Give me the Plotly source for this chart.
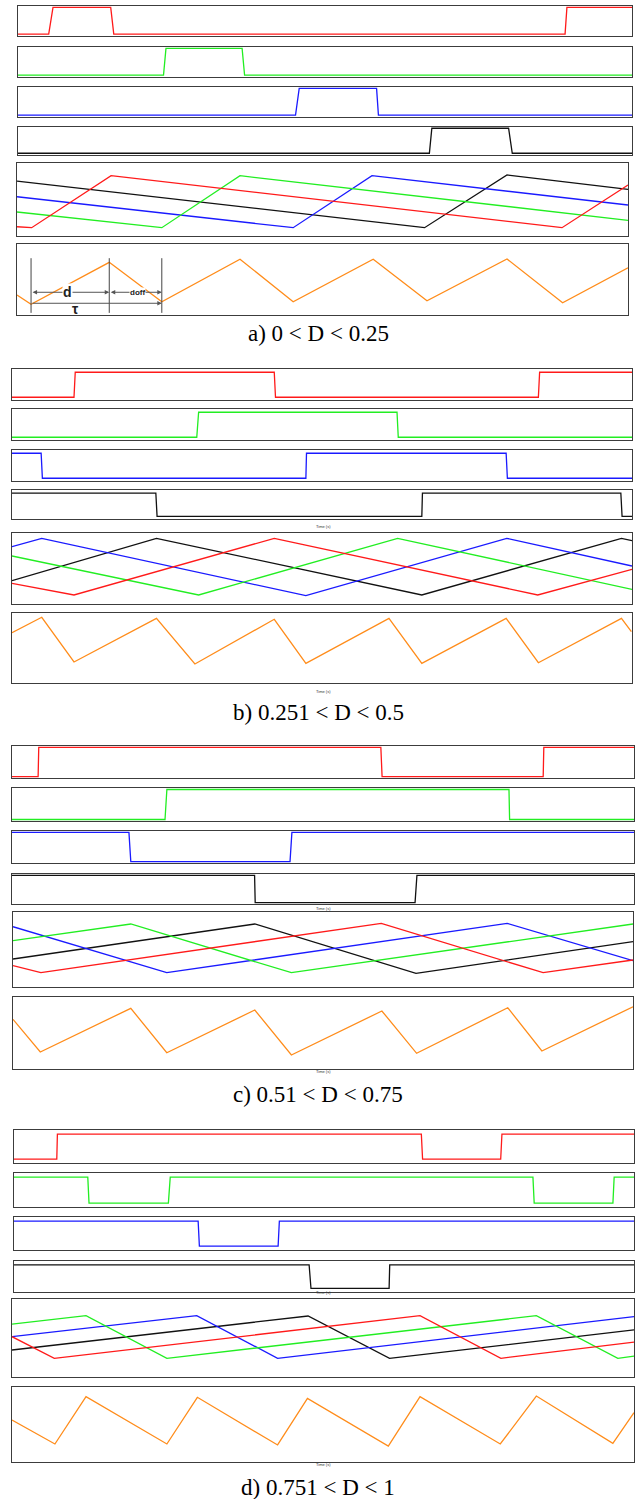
import plotly.graph_objects as go

# ---------------------------------------------------------------------------
# Waveform data: time axis 0..100 (one window), pulse levels 0/1,
# carrier / summed waveforms normalised to the panel height (0..1).
# ---------------------------------------------------------------------------

# a) 0 < D < 0.25  -- gate pulses
a_red_t = [0, 5.0, 5.7, 15.1, 15.6, 89.1, 89.4, 100]
a_red_v = [0, 0, 1, 1, 0, 0, 1, 1]
a_green_t = [0, 23.7, 24.1, 36.5, 36.9, 100]
a_green_v = [0, 0, 1, 1, 0, 0]
a_blue_t = [0, 45.2, 45.8, 58.4, 58.7, 100]
a_blue_v = [0, 0, 1, 1, 0, 0]
a_black_t = [0, 67.0, 67.4, 79.9, 80.5, 100]
a_black_v = [0, 0, 1, 1, 0, 0]
# a) phase currents and total
a_ramp_red_t = [0, 2.4, 15.4, 89.2, 100]
a_ramp_red_v = [0.127, 0.114, 0.826, 0.114, 0.699]
a_ramp_green_t = [0, 23.7, 36.5, 100]
a_ramp_green_v = [0.329, 0.114, 0.826, 0.215]
a_ramp_blue_t = [0, 45.2, 58.1, 100]
a_ramp_blue_v = [0.538, 0.114, 0.826, 0.425]
a_ramp_black_t = [0, 66.7, 80.2, 100]
a_ramp_black_v = [0.753, 0.114, 0.836, 0.640]
a_sum_t = [0, 2.3, 15.1, 23.7, 36.5, 45.2, 58.3, 67.1, 80.2, 89.3, 100]
a_sum_v = [0.282, 0.151, 0.742, 0.187, 0.785, 0.187, 0.785, 0.201, 0.789, 0.173, 0.666]

# b) 0.251 < D < 0.5
b_red_t = [0, 10.0, 10.2, 42.3, 42.5, 84.9, 85.1, 100]
b_red_v = [0, 0, 1, 1, 0, 0, 1, 1]
b_green_t = [0, 29.8, 30.1, 62.1, 62.3, 100]
b_green_v = [0, 0, 1, 1, 0, 0]
b_blue_t = [0, 4.7, 4.9, 47.4, 47.5, 79.7, 79.9, 100]
b_blue_v = [1, 1, 0, 0, 1, 1, 0, 0]
b_black_t = [0, 23.2, 23.4, 66.1, 66.2, 98.2, 98.4, 100]
b_black_v = [1, 1, 0, 0, 1, 1, 0, 0]
b_ramp_red_t = [0, 10.0, 42.3, 84.8, 100]
b_ramp_red_v = [0.291, 0.127, 0.925, 0.127, 0.488]
b_ramp_green_t = [0, 30.1, 62.2, 100]
b_ramp_green_v = [0.676, 0.127, 0.925, 0.207]
b_ramp_blue_t = [0, 4.8, 47.4, 79.8, 100]
b_ramp_blue_v = [0.807, 0.925, 0.117, 0.925, 0.535]
b_ramp_black_t = [0, 23.3, 66.1, 98.3, 100]
b_ramp_black_v = [0.328, 0.925, 0.127, 0.925, 0.892]
b_sum_t = [0, 4.8, 10.0, 23.3, 29.5, 42.3, 47.4, 60.8, 66.1, 79.7, 84.9, 98.3, 99.9]
b_sum_v = [0.719, 0.939, 0.300, 0.924, 0.271, 0.910, 0.281, 0.924, 0.281, 0.924, 0.290, 0.924, 0.733]

# c) 0.51 < D < 0.75
c_red_t = [0, 4.2, 4.3, 59.3, 59.5, 85.4, 85.5, 100]
c_red_v = [0, 0, 1, 1, 0, 0, 1, 1]
c_green_t = [0, 24.6, 24.9, 79.9, 80.0, 100]
c_green_v = [0, 0, 1, 1, 0, 0]
c_blue_t = [0, 18.8, 19.1, 44.7, 45.0, 100]
c_blue_v = [1, 1, 0, 0, 1, 1]
c_black_t = [0, 39.0, 39.1, 64.8, 65.1, 100]
c_black_v = [1, 1, 0, 0, 1, 1]
c_ramp_red_t = [0, 4.5, 59.4, 85.5, 100]
c_ramp_red_v = [0.284, 0.191, 0.849, 0.191, 0.360]
c_ramp_green_t = [0, 19.0, 44.9, 100]
c_ramp_green_v = [0.617, 0.840, 0.191, 0.840]
c_ramp_blue_t = [0, 24.8, 79.7, 100]
c_ramp_blue_v = [0.804, 0.191, 0.849, 0.351]
c_ramp_black_t = [0, 39.0, 65.0, 100]
c_ramp_black_v = [0.373, 0.840, 0.183, 0.604]
c_sum_t = [0, 4.4, 19.0, 24.8, 39.0, 44.9, 59.5, 65.1, 79.8, 85.3, 100]
c_sum_v = [0.690, 0.236, 0.843, 0.226, 0.819, 0.194, 0.806, 0.218, 0.851, 0.250, 0.865]

# d) 0.751 < D < 1
d_red_t = [0, 6.9, 7.0, 65.7, 65.9, 78.5, 78.7, 100]
d_red_v = [0, 0, 1, 1, 0, 0, 1, 1]
d_green_t = [0, 11.9, 12.1, 24.9, 25.2, 83.7, 83.9, 96.6, 96.8, 100]
d_green_v = [1, 1, 0, 0, 1, 1, 0, 0, 1, 1]
d_blue_t = [0, 29.7, 29.9, 42.6, 42.8, 100]
d_blue_v = [1, 1, 0, 0, 1, 1]
d_black_t = [0, 47.6, 47.9, 60.5, 60.6, 100]
d_black_v = [1, 1, 0, 0, 1, 1]
d_ramp_red_t = [0, 6.8, 65.6, 78.6, 100]
d_ramp_red_v = [0.517, 0.240, 0.786, 0.240, 0.446]
d_ramp_green_t = [0, 11.9, 24.9, 84.3, 97.4, 100]
d_ramp_green_v = [0.679, 0.786, 0.240, 0.786, 0.240, 0.269]
d_ramp_blue_t = [0, 29.7, 42.7, 100]
d_ramp_blue_v = [0.517, 0.786, 0.240, 0.773]
d_ramp_black_t = [0, 47.6, 60.7, 100]
d_ramp_black_v = [0.346, 0.782, 0.240, 0.603]
d_sum_t = [0, 6.9, 11.9, 24.9, 29.8, 42.7, 47.5, 60.5, 65.6, 78.5, 84.3, 96.6, 100]
d_sum_v = [0.560, 0.240, 0.871, 0.240, 0.863, 0.227, 0.849, 0.213, 0.871, 0.240, 0.880, 0.249, 0.657]

captions = ["a) 0 < D < 0.25", "b) 0.251 < D < 0.5", "c) 0.51 < D < 0.75", "d) 0.751 < D < 1"]

# ---------------------------------------------------------------------------
# Styling and layout
# ---------------------------------------------------------------------------
W, H = 637, 1499
RED, GREEN, BLUE, BLACK, ORANGE = "#ff1a1a", "#22ee22", "#1a1aff", "#111111", "#ff8c1a"
FRAME = "#3c3c3c"

groups = [
    dict(
        pulses=[(a_red_t, a_red_v, RED), (a_green_t, a_green_v, GREEN),
                (a_blue_t, a_blue_v, BLUE), (a_black_t, a_black_v, BLACK)],
        ramps=[(a_ramp_black_t, a_ramp_black_v, BLACK), (a_ramp_blue_t, a_ramp_blue_v, BLUE),
               (a_ramp_green_t, a_ramp_green_v, GREEN), (a_ramp_red_t, a_ramp_red_v, RED)],
        total=(a_sum_t, a_sum_v),
        boxes=[(18, 6, 632, 36), (18, 47, 632, 77), (18, 87, 632, 117), (18, 127, 632, 155),
               (17, 163, 628, 236), (17, 244, 628, 315)],
        prange=[-0.07, 1.05], caption_y=333, time_y=None,
    ),
    dict(
        pulses=[(b_red_t, b_red_v, RED), (b_green_t, b_green_v, GREEN),
                (b_blue_t, b_blue_v, BLUE), (b_black_t, b_black_v, BLACK)],
        ramps=[(b_ramp_black_t, b_ramp_black_v, BLACK), (b_ramp_blue_t, b_ramp_blue_v, BLUE),
               (b_ramp_green_t, b_ramp_green_v, GREEN), (b_ramp_red_t, b_ramp_red_v, RED)],
        total=(b_sum_t, b_sum_v),
        boxes=[(12, 369, 632, 400), (12, 409, 632, 440), (12, 450, 632, 481), (12, 490, 632, 519),
               (12, 533, 632, 604), (12, 613, 632, 683)],
        prange=[-0.11, 1.13], caption_y=712, time_y=(526, 691),
    ),
    dict(
        pulses=[(c_red_t, c_red_v, RED), (c_green_t, c_green_v, GREEN),
                (c_blue_t, c_blue_v, BLUE), (c_black_t, c_black_v, BLACK)],
        ramps=[(c_ramp_black_t, c_ramp_black_v, BLACK), (c_ramp_blue_t, c_ramp_blue_v, BLUE),
               (c_ramp_green_t, c_ramp_green_v, GREEN), (c_ramp_red_t, c_ramp_red_v, RED)],
        total=(c_sum_t, c_sum_v),
        boxes=[(12, 746, 634, 778), (12, 788, 634, 821), (12, 831, 634, 863), (12, 874, 634, 904),
               (13, 912, 633, 987), (13, 997, 633, 1069)],
        prange=[-0.05, 1.05], caption_y=1094, time_y=(908, 1076),
    ),
    dict(
        pulses=[(d_red_t, d_red_v, RED), (d_green_t, d_green_v, GREEN),
                (d_blue_t, d_blue_v, BLUE), (d_black_t, d_black_v, BLACK)],
        ramps=[(d_ramp_black_t, d_ramp_black_v, BLACK), (d_ramp_blue_t, d_ramp_blue_v, BLUE),
               (d_ramp_green_t, d_ramp_green_v, GREEN), (d_ramp_red_t, d_ramp_red_v, RED)],
        total=(d_sum_t, d_sum_v),
        boxes=[(14, 1130, 634, 1163), (14, 1173, 634, 1207), (14, 1217, 634, 1250), (14, 1261, 634, 1292),
               (12, 1299, 634, 1377), (12, 1387, 634, 1462)],
        prange=[-0.15, 1.16], caption_y=1487, time_y=(1297, 1469),
    ),
]

fig = go.Figure()
layout = {}
annotations = []
shapes = []
axis_count = 0


def new_panel(box, yrange):
    global axis_count
    axis_count += 1
    n = axis_count
    l, t, r, b = box
    sfx = "" if n == 1 else str(n)
    common = dict(showticklabels=False, showgrid=False, zeroline=False, ticks="",
                  showline=True, mirror=True, linecolor=FRAME, linewidth=1, fixedrange=True)
    layout["xaxis" + sfx] = dict(domain=[l / W, r / W], range=[0, 100], anchor="y" + sfx, **common)
    layout["yaxis" + sfx] = dict(domain=[1 - b / H, 1 - t / H], range=yrange, anchor="x" + sfx, **common)
    return "x" + sfx, "y" + sfx


def add_line(xr, yr, xs, ys, color):
    fig.add_trace(go.Scatter(x=xs, y=ys, xaxis=xr, yaxis=yr, mode="lines",
                             line=dict(color=color, width=1.3), hoverinfo="skip",
                             showlegend=False))


for gi, g in enumerate(groups):
    for (xs, ys, col), box in zip(g["pulses"], g["boxes"][:4]):
        xr, yr = new_panel(box, g["prange"])
        add_line(xr, yr, xs, ys, col)
    xr, yr = new_panel(g["boxes"][4], [0, 1])
    for xs, ys, col in g["ramps"]:
        add_line(xr, yr, xs, ys, col)
    xr, yr = new_panel(g["boxes"][5], [0, 1])
    add_line(xr, yr, g["total"][0], g["total"][1], ORANGE)

    if gi == 0:
        # duty-cycle markers on the first total-current trace
        t0, t1, t2 = a_sum_t[1], a_sum_t[2], a_sum_t[3]
        for tx in (t0, t1, t2):
            shapes.append(dict(type="line", xref=xr, yref=yr, x0=tx, x1=tx, y0=0.03, y1=0.80,
                               line=dict(color="#444444", width=1)))
        for xa, xb, yy, side in ((t0, t1, 0.32, "end+start"), (t1, t2, 0.32, "end+start"),
                                 (t0, t2, 0.165, "end")):
            annotations.append(dict(x=xb, y=yy, ax=xa, ay=yy, xref=xr, yref=yr, axref=xr, ayref=yr,
                                    text="", showarrow=True, arrowhead=2, arrowsize=0.9,
                                    arrowwidth=1, arrowcolor="#555555", arrowside=side,
                                    standoff=0, startstandoff=0))
        annotations.append(dict(x=(t0 + t1) / 2 - 0.4, y=0.32, xref=xr, yref=yr, text="<b>d</b>",
                                showarrow=False, bgcolor="white", borderpad=0,
                                font=dict(family="Liberation Sans", size=14, color="#222")))
        annotations.append(dict(x=(t1 + t2) / 2 + 0.3, y=0.32, xref=xr, yref=yr, text="<b>doff</b>",
                                showarrow=False, bgcolor="white", borderpad=0,
                                font=dict(family="Liberation Sans", size=8, color="#222")))
        annotations.append(dict(x=9.5, y=0.08, xref=xr, yref=yr, text="<b>τ</b>",
                                showarrow=False,
                                font=dict(family="Liberation Sans", size=14, color="#222")))

    if g["time_y"]:
        for ty in g["time_y"]:
            annotations.append(dict(x=323 / W, y=1 - ty / H, xref="paper", yref="paper",
                                    text="Time (s)", showarrow=False,
                                    font=dict(family="Liberation Sans", size=4, color="#333")))

    annotations.append(dict(x=318 / W, y=1 - g["caption_y"] / H, xref="paper", yref="paper",
                            text=captions[gi], showarrow=False, yanchor="middle",
                            font=dict(family="Liberation Serif", size=23, color="black")))

fig.update_layout(
    width=W, height=H, margin=dict(l=0, r=0, t=0, b=0),
    paper_bgcolor="white", plot_bgcolor="white", showlegend=False,
    annotations=annotations, shapes=shapes, **layout,
)

fig.write_html("out.html", config={"displayModeBar": False})
